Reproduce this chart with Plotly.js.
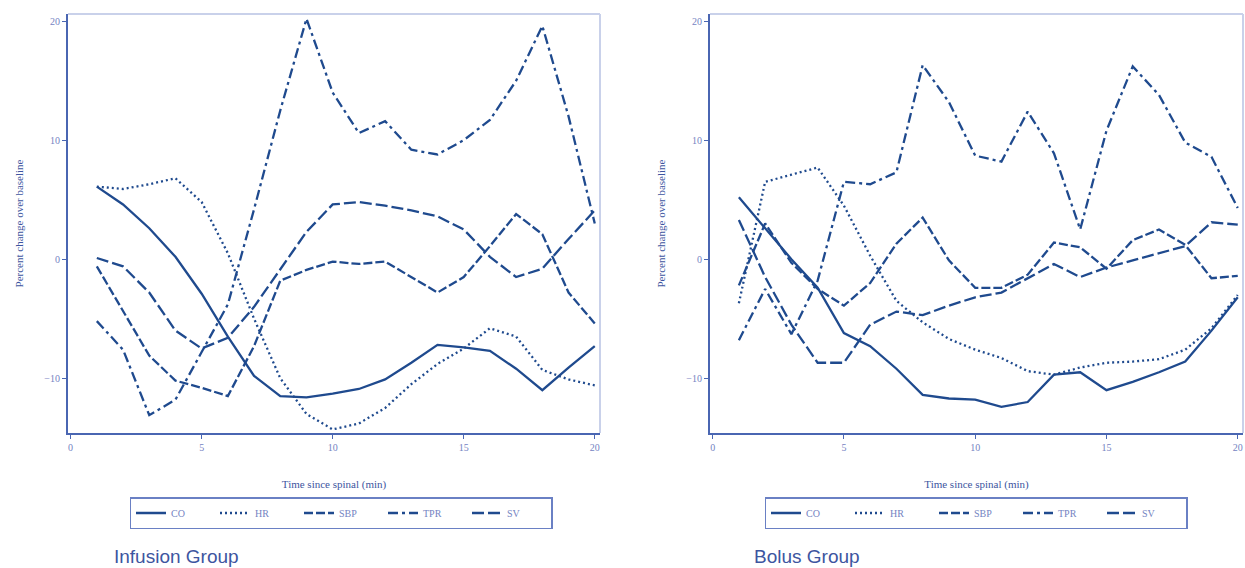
<!DOCTYPE html>
<html>
<head>
<meta charset="utf-8">
<script src="https://cdn.plot.ly/plotly-3.0.1.min.js"></script>
<style>html,body{margin:0;padding:0;background:#fff;}#chart{width:1245px;height:568px;}</style>
</head>
<body>
<div id="chart"></div>
<script>
// Time points (minutes since spinal)
const minutes = [1,2,3,4,5,6,7,8,9,10,11,12,13,14,15,16,17,18,19,20];

// Infusion group (% change over baseline)
const infCO  = [6.1, 4.6, 2.6, 0.2, -2.9, -6.5, -9.8, -11.5, -11.6, -11.3, -10.9, -10.1, -8.7, -7.2, -7.4, -7.7, -9.2, -11.0, -9.1, -7.3];
const infHR  = [6.1, 5.9, 6.3, 6.8, 4.8, 0.5, -5.0, -10.0, -13.0, -14.3, -13.8, -12.5, -10.5, -8.8, -7.5, -5.8, -6.5, -9.3, -10.1, -10.6];
const infSBP = [-0.6, -4.3, -8.1, -10.2, -10.8, -11.5, -7.3, -1.8, -0.9, -0.2, -0.4, -0.2, -1.5, -2.8, -1.5, 1.1, 3.8, 2.1, -2.8, -5.4];
const infTPR = [-5.2, -7.6, -13.1, -11.8, -7.8, -3.8, 4.2, 12.5, 20.2, 14.0, 10.6, 11.6, 9.2, 8.8, 10.0, 11.7, 15.0, 19.6, 12.0, 3.0];
const infSV  = [0.1, -0.6, -2.8, -6.0, -7.5, -6.6, -4.0, -0.8, 2.3, 4.6, 4.8, 4.5, 4.1, 3.6, 2.5, 0.2, -1.5, -0.8, 1.7, 4.1];

// Bolus group (% change over baseline)
const bolCO  = [5.2, 2.6, 0.0, -2.4, -6.2, -7.3, -9.2, -11.4, -11.7, -11.8, -12.4, -12.0, -9.7, -9.5, -11.0, -10.3, -9.5, -8.6, -6.0, -3.2];
const bolHR  = [-3.7, 6.5, 7.1, 7.7, 4.5, 0.3, -3.5, -5.3, -6.7, -7.6, -8.3, -9.4, -9.7, -9.1, -8.7, -8.6, -8.4, -7.6, -5.8, -3.0];
const bolSBP = [-2.2, 3.0, -0.3, -2.5, -3.9, -2.0, 1.3, 3.5, -0.1, -2.4, -2.4, -1.3, 1.4, 1.0, -0.8, 1.6, 2.5, 1.2, -1.6, -1.4];
const bolTPR = [-6.8, -2.5, -6.3, -1.8, 6.5, 6.3, 7.3, 16.3, 13.2, 8.7, 8.2, 12.4, 8.9, 2.5, 10.8, 16.2, 13.8, 9.8, 8.6, 4.3];
const bolSV  = [3.3, -1.5, -5.5, -8.7, -8.7, -5.5, -4.4, -4.7, -3.9, -3.2, -2.8, -1.6, -0.4, -1.5, -0.7, -0.1, 0.5, 1.1, 3.1, 2.9];

const seriesNames = ['CO', 'HR', 'SBP', 'TPR', 'SV'];
const xTicks = [0, 5, 10, 15, 20];
const yTicks = [-10, 0, 10, 20];
const groupLabels = ['Infusion Group', 'Bolus Group'];
const xTitle = 'Time since spinal (min)';
const yTitle = 'Percent change over baseline';

const LINE = '#1f4a8e';
const AXIS = '#4a66b2';
const TICKTXT = '#7483c2';
const TITLETXT = '#3d55a0';
const dashes = ['solid', '2px,3px', '9px,3px', '10px,4px,3px,4px', '12px,4px'];

const groups = [
  {vals: [infCO, infHR, infSBP, infTPR, infSV], xa: 'x', ya: 'y', leg: 'legend'},
  {vals: [bolCO, bolHR, bolSBP, bolTPR, bolSV], xa: 'x2', ya: 'y2', leg: 'legend2'}
];

const traces = [];
groups.forEach(g => {
  g.vals.forEach((v, i) => {
    traces.push({
      x: minutes, y: v, type: 'scatter', mode: 'lines',
      name: seriesNames[i], xaxis: g.xa, yaxis: g.ya, legend: g.leg,
      line: {color: LINE, width: 2.3, dash: dashes[i]},
      hoverinfo: 'skip'
    });
  });
});

// plot area in pixels: x 68..1243, y 14..433
const PL = 68, PR = 1243, PT = 14, PB = 433;
const PW = PR - PL, PH = PB - PT;
const px = v => (v - PL) / PW;
const py = v => (PB - v) / PH;

function xAxis(dom) {
  return {
    domain: dom, range: [-0.1, 20.2], tickvals: xTicks, ticks: 'outside', ticklen: 4,
    tickcolor: AXIS, tickwidth: 1, showline: true, linecolor: AXIS, linewidth: 2,
    showgrid: false, zeroline: false, automargin: false,
    tickfont: {family: 'Liberation Serif', size: 10, color: TICKTXT},
    title: {text: xTitle, font: {family: 'Liberation Serif', size: 11, color: TITLETXT}, standoff: 28}
  };
}
function yAxis(anchor) {
  return {
    domain: [0, 1], range: [-14.6, 20.6], tickvals: yTicks, ticks: 'outside', ticklen: 4,
    tickcolor: AXIS, tickwidth: 1, showline: true, linecolor: AXIS, linewidth: 2,
    showgrid: false, zeroline: false, anchor: anchor, automargin: false,
    tickfont: {family: 'Liberation Serif', size: 10, color: TICKTXT},
    title: {text: yTitle, font: {family: 'Liberation Serif', size: 11, color: TITLETXT}, standoff: 19}
  };
}

function legendCfg(xc) {
  return {
    orientation: 'h', x: xc, xanchor: 'center', y: py(497), yanchor: 'top',
    bordercolor: '#6a80c4', borderwidth: 1.5, bgcolor: '#fff',
    font: {family: 'Liberation Serif', size: 10, color: TICKTXT},
    entrywidth: 39, tracegroupgap: 0, itemclick: false
  };
}

const frame = [];
['x', 'x2'].forEach((xa, k) => {
  const ya = k === 0 ? 'y' : 'y2';
  frame.push({type: 'line', xref: xa + ' domain', yref: ya + ' domain', x0: 0, x1: 1, y0: 1, y1: 1,
    line: {color: '#c9d1ea', width: 2}});
  frame.push({type: 'line', xref: xa + ' domain', yref: ya + ' domain', x0: 1, x1: 1, y0: 0, y1: 1,
    line: {color: '#c9d1ea', width: 2}});
});

const layout = {
  width: 1245, height: 568,
  margin: {l: PL, r: 1245 - PR, t: PT, b: 568 - PB, autoexpand: false},
  paper_bgcolor: '#fff', plot_bgcolor: '#fff',
  showlegend: true,
  xaxis: xAxis([0, px(600)]),
  yaxis: yAxis('x'),
  xaxis2: xAxis([px(710), 1]),
  yaxis2: yAxis('x2'),
  legend: legendCfg(px(341)),
  legend2: legendCfg(px(976)),
  shapes: frame,
  annotations: [
    {text: groupLabels[0], xref: 'paper', yref: 'paper', x: px(112), y: py(556),
     xanchor: 'left', yanchor: 'middle', showarrow: false,
     font: {family: 'Liberation Sans', size: 19, color: TITLETXT}},
    {text: groupLabels[1], xref: 'paper', yref: 'paper', x: px(752), y: py(556),
     xanchor: 'left', yanchor: 'middle', showarrow: false,
     font: {family: 'Liberation Sans', size: 19, color: TITLETXT}}
  ]
};

Plotly.newPlot('chart', traces, layout, {displayModeBar: false, staticPlot: true});
</script>
</body>
</html>
